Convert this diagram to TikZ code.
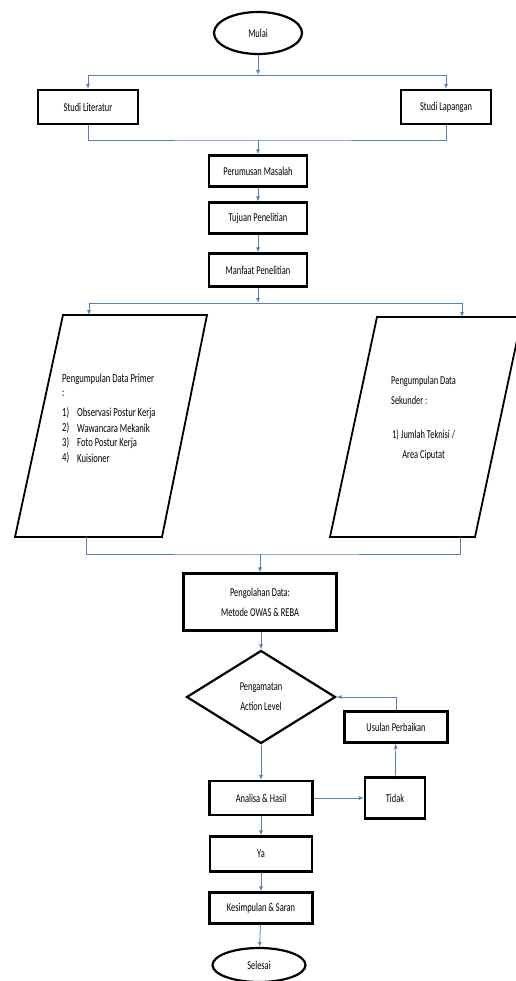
\documentclass[tikz,border=0pt]{standalone}
\usepackage{fontspec}
\setmainfont{Carlito}[FakeStretch=0.7]
\usetikzlibrary{arrows.meta,calc,positioning,shapes.geometric}
\definecolor{ArrowBlue}{RGB}{84,128,184}

\begin{document}
\begin{tikzpicture}[x=1pt,y=-1pt,
    proses/.style={draw,line width=2.2pt,rectangle,inner sep=2pt,align=center,
      font=\fontsize{12}{20}\selectfont},
    terminal/.style={draw,line width=2.2pt,ellipse,inner sep=1pt,
      font=\fontsize{12}{20}\selectfont},
    keputusan/.style={draw,line width=2.2pt,diamond,inner sep=1pt,align=center,
      font=\fontsize{12}{20}\selectfont},
    miring/.style={draw,line width=1.8pt,line join=miter},
    garis/.style={ArrowBlue,line width=0.8pt},
    panah/.style={garis,-{Latex[length=5pt,width=4pt]}},
    isi/.style={font=\fontsize{12.3}{15}\selectfont,inner sep=0pt}]
  \useasboundingbox (0,0) rectangle (515,981);

  \node[terminal,minimum width=88,minimum height=42] (mulai) at (258,33) {Mulai};
  \node[proses,minimum width=100,minimum height=34] (literatur) at (88,107) {Studi Literatur};
  \node[proses,minimum width=90,minimum height=34] (lapangan) at (446,107) {Studi Lapangan};
  \node[proses,minimum width=98,minimum height=31] (perumusan) at (258,171) {Perumusan Masalah};
  \node[proses,minimum width=98,minimum height=31] (tujuan) at (258,218) {Tujuan Penelitian};
  \node[proses,minimum width=98,minimum height=33] (manfaat) at (258,270) {Manfaat Penelitian};

  \draw[miring] (63,315) -- (207,315) -- (162,537) -- (15,537) -- cycle;
  \coordinate (primer-in) at (89,315);
  \coordinate (primer-out) at (86,537);
  \node[isi,anchor=west] (primer) at (62,379) {Pengumpulan Data Primer};
  \node[isi,anchor=west] (titikdua) at (62,394) {:};
  \foreach \n/\t [count=\i] in {1/Observasi Postur Kerja,2/Wawancara Mekanik,
      3/Foto Postur Kerja,4/Kuisioner}{
    \node[isi,anchor=west] (no\i) at (62,398+15*\i) {\n)};
    \node[isi,anchor=west] (item\i) at (77,398+15*\i) {\t};
  }

  \draw[miring] (377,317) -- (522,317) -- (475,537) -- (330,537) -- cycle;
  \coordinate (sekunder-in) at (462,317);
  \coordinate (sekunder-out) at (460,537);
  \node[isi,anchor=north west,align=left,font=\fontsize{12}{20}\selectfont]
    (sekunder) at (391,376) {Pengumpulan Data\\Sekunder :};
  \node[isi,anchor=north west,align=center,font=\fontsize{12}{20}\selectfont]
    (teknisi) at (392,430) {1) Jumlah Teknisi /\\Area Ciputat};

  \node[proses,minimum width=153,minimum height=57] (pengolahan) at (260,602)
    {Pengolahan Data:\\Metode OWAS \& REBA};
  \node[keputusan,minimum width=149,minimum height=93] (pengamatan) at (261,697)
    {Pengamatan\\Action Level};
  \node[proses,minimum width=103,minimum height=31] (usulan) at (396,727) {Usulan Perbaikan};
  \node[proses,minimum width=103,minimum height=34] (analisa) at (261,798) {Analisa \& Hasil};
  \node[proses,minimum width=60,minimum height=41] (tidak) at (395,798) {Tidak};
  \node[proses,minimum width=102,minimum height=35] (ya) at (261,854) {Ya};
  \node[proses,minimum width=103,minimum height=31] (kesimpulan) at (261,908) {Kesimpulan \& Saran};
  \node[terminal,minimum width=93,minimum height=34] (selesai) at (259,965) {Selesai};

  \coordinate (cabang1) at (258,75);
  \draw[panah] (mulai) -- (cabang1);
  \draw[garis] (literatur.north |- cabang1) -- (lapangan.north |- cabang1);
  \draw[panah] (literatur.north |- cabang1) -- (literatur.north);
  \draw[panah] (lapangan.north |- cabang1) -- (lapangan.north);
  \coordinate (gabung1) at (258,140);
  \draw[garis] (literatur.south) |- (gabung1) -| (lapangan.south);
  \draw[panah] (gabung1) -- (perumusan);
  \draw[panah] (perumusan) -- (tujuan);
  \draw[panah] (tujuan) -- (manfaat);
  \coordinate (cabang2) at (258,303);
  \draw[panah] (manfaat) -- (cabang2);
  \draw[garis] (primer-in |- cabang2) -- (sekunder-in |- cabang2);
  \draw[panah] (primer-in |- cabang2) -- (primer-in);
  \draw[panah] (sekunder-in |- cabang2) -- (sekunder-in);
  \coordinate (gabung2) at (260,554);
  \draw[garis] (primer-out) |- (gabung2) -| (sekunder-out);
  \draw[panah] (gabung2) -- (pengolahan);
  \draw[panah] (pengolahan.south -| pengamatan.north) -- (pengamatan);
  \draw[panah] (pengamatan) -- (analisa);
  \draw[panah] (analisa) -- (tidak);
  \draw[panah] (tidak) -- (usulan);
  \draw[panah] (usulan.north) |- (pengamatan);
  \draw[panah] (analisa) -- (ya);
  \draw[panah] (ya) -- (kesimpulan);
  \draw[panah] (kesimpulan) -- (selesai);
\end{tikzpicture}
\end{document}
